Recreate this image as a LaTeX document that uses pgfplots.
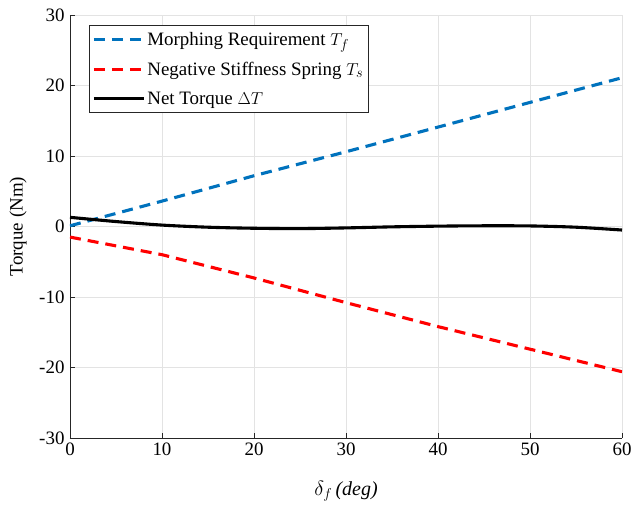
\documentclass[border=0pt]{standalone}
\usepackage{pgfplots}
\pgfplotsset{compat=1.18}
\usepackage{fontspec}
\setmainfont{Liberation Serif}
\definecolor{mblue}{RGB}{0,114,189}
\definecolor{mred}{RGB}{255,0,0}
\definecolor{axgray}{RGB}{38,38,38}
\begin{document}
\begin{tikzpicture}
\begin{axis}[
    name=ax,
    scale only axis,
    width=552bp,
    height=423bp,
    xmin=0, xmax=60,
    ymin=-30, ymax=30,
    xtick={0,10,...,60},
    ytick={-30,-20,...,30},
    yticklabels={-30,-20,-10,0,10,20,30},
    axis x line*=bottom,
    axis y line*=left,
    axis line style={axgray, line width=0.7pt},
    tick style={axgray, line width=0.6pt},
    tick align=inside,
    major tick length=5bp,
    grid=major,
    major grid style={gray!22, line width=0.6pt},
    ticklabel style={font=\fontsize{19}{21}\selectfont},
    /pgf/number format/assume math mode=true,
    xticklabel style={yshift=-1bp},
    yticklabel style={xshift=-2bp},
    xlabel={\fontsize{20}{22}\selectfont$\delta_f$\,\textit{(deg)}},
    ylabel={\fontsize{19}{20}\selectfont Torque (Nm)},
    every axis x label/.style={at={(axis description cs:0.5,0)}, anchor=center, yshift=-53bp},
    every axis y label/.style={at={(axis description cs:0,0.5)}, anchor=center, xshift=-52bp, rotate=90},
    legend style={at={(19bp,413bp)}, anchor=north west, draw=axgray, line width=0.6pt,
        font=\fontsize{19}{21}\selectfont, cells={anchor=west}, row sep=11bp,
        inner xsep=3bp, inner ysep=5bp},
    legend image code/.code={\draw[#1] (0bp,0bp) -- (50bp,0bp);},
]
\addplot[mblue, line width=3.1bp, dash pattern=on 11bp off 7bp] coordinates {
    (0,0.1) (10,3.6) (20,7.2) (30,10.6) (40,14.1) (50,17.6) (60,21.1)
};
\addlegendentry{Morphing Requirement $T_f$}
\addplot[mred, line width=3.1bp, dash pattern=on 11bp off 7bp] coordinates {
    (0,-1.5) (10,-4.0) (20,-7.3) (30,-10.8) (40,-14.2) (50,-17.4) (60,-20.6)
};
\addlegendentry{Negative Stiffness Spring $T_s$}
\addplot[black, line width=3.1bp, smooth] coordinates {
    (0,1.3) (5,0.7) (10,0.2) (15,-0.1) (20,-0.25) (25,-0.3) (30,-0.2) (35,-0.05)
    (40,0.05) (45,0.1) (50,0.08) (55,-0.1) (60,-0.5)
};
\addlegendentry{Net Torque $\Delta T$}
\end{axis}
\pgfresetboundingbox
\path ([xshift=-70bp,yshift=-72bp]ax.south west) rectangle ([xshift=10bp,yshift=15bp]ax.north east);
\end{tikzpicture}
\end{document}
